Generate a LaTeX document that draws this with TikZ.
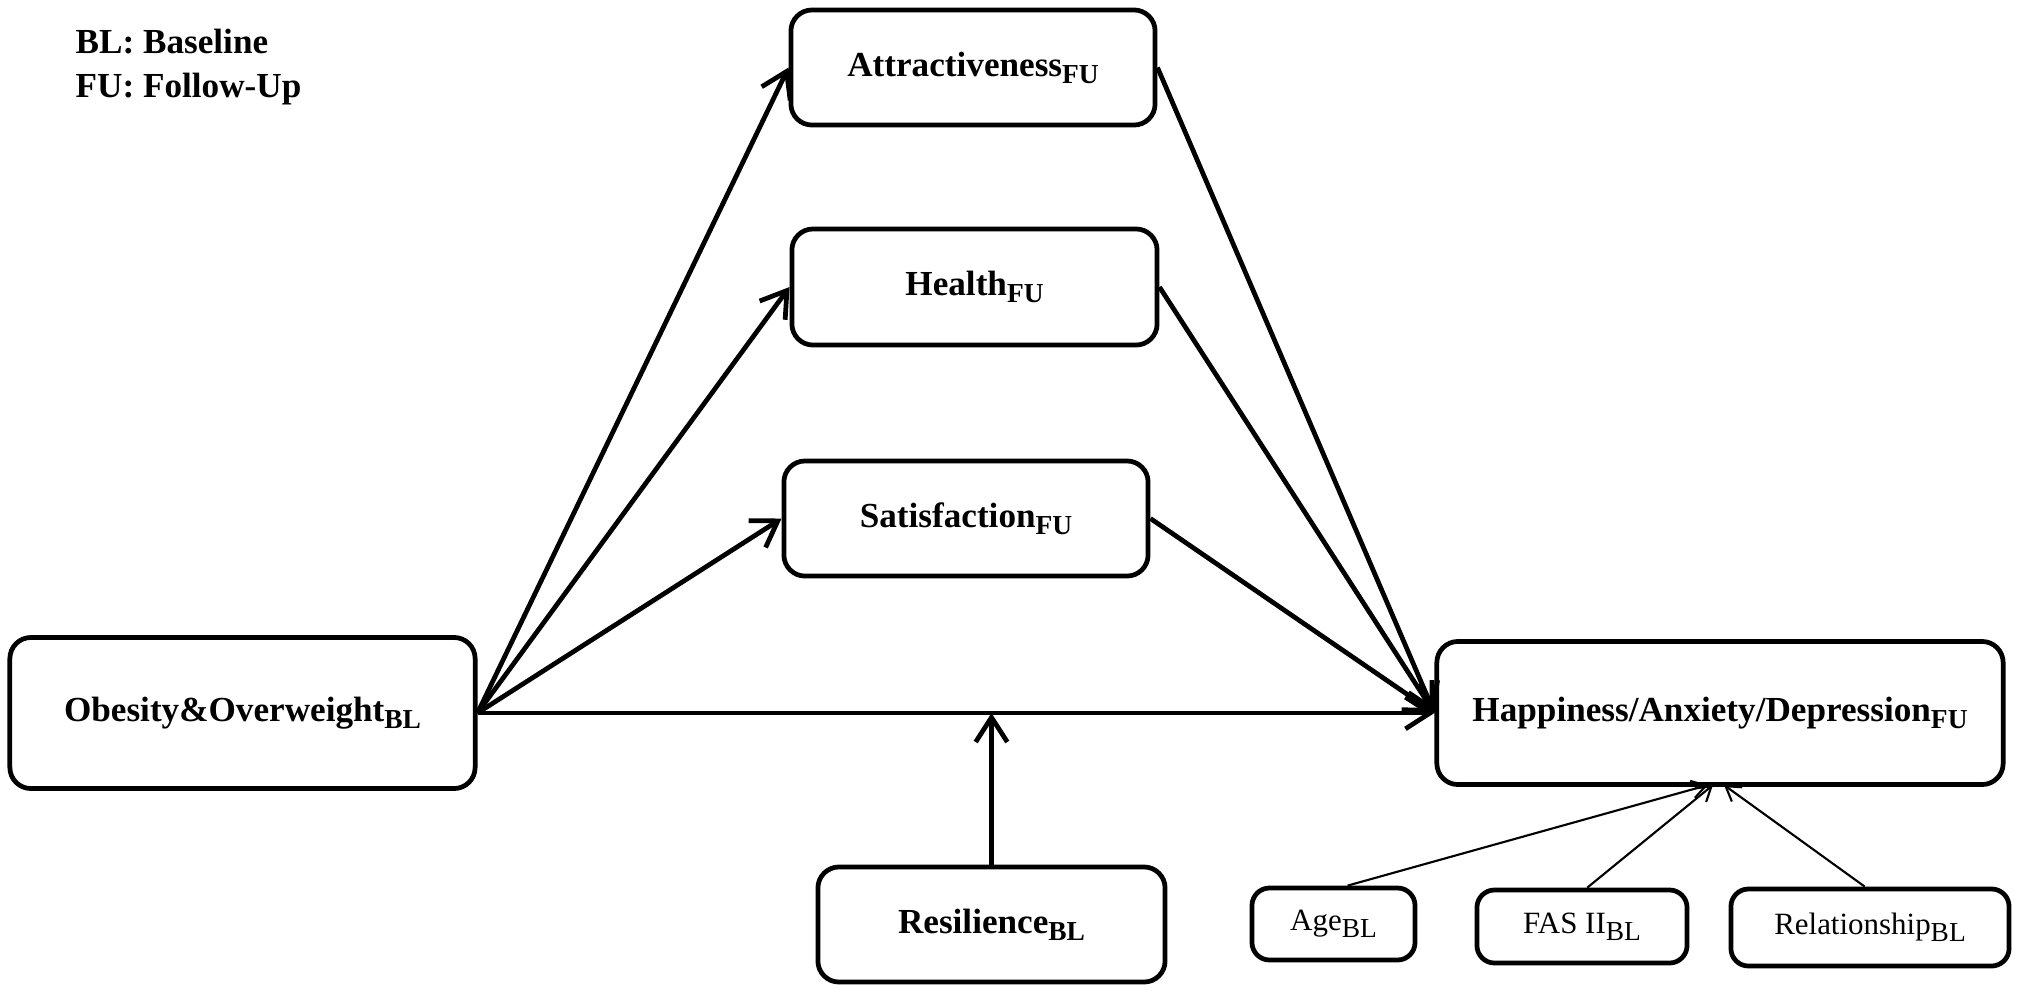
\documentclass[tikz,border=0pt]{standalone}
\usepackage{fontspec}
\setmainfont{Liberation Serif}
\usetikzlibrary{arrows.meta}
\newcommand{\lsub}[1]{\raisebox{-2pt}{\fontsize{7.8}{8}\selectfont #1}}
\begin{document}
\begin{tikzpicture}[x=0.01cm,y=-0.01cm,
  mainbox/.style={draw, line width=1.35pt, rounded corners=6pt, inner sep=0pt,
    font=\fontsize{10}{12}\selectfont\bfseries},
  ctrlbox/.style={draw, line width=1.35pt, rounded corners=5pt, inner sep=0pt,
    font=\fontsize{8.8}{11}\selectfont},
  legend/.style={anchor=base west, inner sep=0pt, font=\fontsize{10}{12}\selectfont\bfseries},
  conn/.style={line width=1.35pt, -{Straight Barb[length=7pt,width=9pt,line width=1.35pt]}},
  thinconn/.style={line width=0.6pt, -{Straight Barb[length=4pt,width=5pt,line width=0.6pt]}}
]
\useasboundingbox (0,0) rectangle (2020,993);

\node[legend] (legbl) at (75,53) {BL: Baseline};
\node[legend] (legfu) at (75,97) {FU: Follow-Up};

\node[mainbox, minimum width=3.64cm, minimum height=1.15cm] (attr) at (973,67.5) {Attractiveness\lsub{FU}};
\node[mainbox, minimum width=3.65cm, minimum height=1.16cm] (health) at (974.5,287) {Health\lsub{FU}};
\node[mainbox, minimum width=3.64cm, minimum height=1.15cm] (sat) at (966,518.5) {Satisfaction\lsub{FU}};
\node[mainbox, minimum width=4.65cm, minimum height=1.51cm] (obes) at (242.5,713) {Obesity\&Overweight\lsub{BL}};
\node[mainbox, minimum width=5.66cm, minimum height=1.43cm] (hap) at (1720,713) {Happiness/Anxiety/Depression\lsub{FU}};
\node[mainbox, minimum width=3.47cm, minimum height=1.15cm] (res) at (991.5,924.5) {Resilience\lsub{BL}};

\node[ctrlbox, minimum width=1.63cm, minimum height=0.72cm] (age) at (1333.5,924) {Age\lsub{BL}};
\node[ctrlbox, minimum width=2.10cm, minimum height=0.73cm] (fas) at (1582,926.5) {FAS II\lsub{BL}};
\node[ctrlbox, minimum width=2.78cm, minimum height=0.77cm] (rel) at (1870,927.5) {Relationship\lsub{BL}};

\draw[conn] (obes.east) -- (attr.west);
\draw[conn] (obes.east) -- (health.west);
\draw[conn] (obes.east) -- (sat.west);
\draw[conn] (obes.east) -- (hap.west);
\draw[conn] (attr.east) -- (hap.west);
\draw[conn] (health.east) -- (hap.west);
\draw[conn] (sat.east) -- (hap.west);

\coordinate (mod) at (res.north |- obes.east);
\draw[conn] (res.north) -- (mod);

\coordinate (t1) at (1708,785);
\coordinate (t2) at (1713,785);
\coordinate (t3) at (1724,785);
\draw[thinconn] ([xshift=4pt]age.north) -- (t1);
\draw[thinconn] ([xshift=1.5pt]fas.north) -- (t2);
\draw[thinconn] ([xshift=-1.5pt]rel.north) -- (t3);
\end{tikzpicture}
\end{document}
